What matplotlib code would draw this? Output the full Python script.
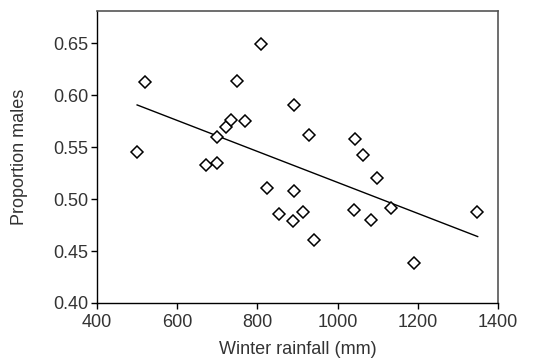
import matplotlib
matplotlib.use("Agg")
import matplotlib.pyplot as plt

# winter rainfall (mm) vs proportion of males
rainfall = [500, 519, 672, 699, 699, 721, 735, 750, 768, 810, 824, 853, 888, 891, 891,
            913, 929, 941, 1041, 1043, 1064, 1084, 1099, 1132, 1190, 1348]
prop_males = [0.545, 0.613, 0.533, 0.535, 0.560, 0.569, 0.576, 0.614, 0.575, 0.649, 0.511,
              0.486, 0.479, 0.508, 0.590, 0.488, 0.562, 0.461, 0.489, 0.558, 0.542, 0.480,
              0.520, 0.491, 0.438, 0.488]

# fitted regression line end points
fit_x = [500, 1349]
fit_y = [0.5905, 0.4639]

plt.rcParams['font.family'] = ['Liberation Sans', 'DejaVu Sans']

fig = plt.figure(figsize=(5.45, 3.62), dpi=100)
ax = fig.add_axes([0.178, 0.163, 0.736, 0.807])

ax.plot(fit_x, fit_y, color='black', lw=1.0)
ax.plot(rainfall, prop_males, 'D', ms=6, mfc='white', mec='black', mew=1.1, ls='none')

ax.set_xlim(400, 1400)
ax.set_ylim(0.40, 0.681)
ax.set_xticks([400, 600, 800, 1000, 1200, 1400])
ax.set_yticks([0.40, 0.45, 0.50, 0.55, 0.60, 0.65])
ax.set_yticklabels(['%.2f' % v for v in ax.get_yticks()])

for s in ['top', 'right']:
    ax.spines[s].set_color('#555555')
    ax.spines[s].set_linewidth(1.2)
for s in ['left', 'bottom']:
    ax.spines[s].set_color('black')
    ax.spines[s].set_linewidth(1.0)

ax.tick_params(direction='out', length=4, width=1, labelsize=13, colors='black',
               labelcolor='#333333')
ax.tick_params(axis='y', pad=2)
ax.tick_params(axis='x', pad=4)
ax.set_xlabel('Winter rainfall (mm)', fontsize=13, color='#333333', labelpad=7)
ax.set_ylabel('Proportion males', fontsize=13, color='#333333', labelpad=18)

fig.savefig('out.png', dpi=100)
